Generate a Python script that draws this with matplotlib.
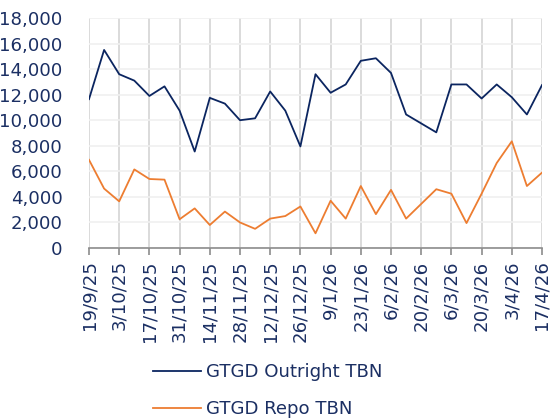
import matplotlib
matplotlib.use("Agg")
import matplotlib.pyplot as plt
from matplotlib.ticker import FuncFormatter, MultipleLocator

# ---- data ----
tick_labels = ["19/9/25", "3/10/25", "17/10/25", "31/10/25", "14/11/25", "28/11/25",
               "12/12/25", "26/12/25", "9/1/26", "23/1/26", "6/2/26", "20/2/26",
               "6/3/26", "20/3/26", "3/4/26", "17/4/26"]
outright = [11650, 15500, 13600, 13100, 11900, 12650, 10750, 7550, 11750, 11300,
            10000, 10150, 12250, 10750, 7950, 13600, 12150, 12800, 14650, 14850,
            13700, 10450, 9750, 9050, 12800, 12800, 11700, 12800, 11800, 10450, 12750]
repo = [6900, 4650, 3650, 6150, 5400, 5350, 2250, 3100, 1800, 2850,
        2000, 1500, 2300, 2500, 3250, 1150, 3700, 2300, 4850, 2650,
        4550, 2300, 3450, 4600, 4250, 1950, 4250, 6650, 8350, 4850, 5900]
series_names = ["GTGD Outright TBN", "GTGD Repo TBN"]

navy = "#0B2560"
orange = "#ED7D31"
text_c = "#1B2F63"
fs = 13.1

fig = plt.figure(figsize=(5.53, 4.19), dpi=100)
ax = fig.add_axes([89/553, 1-248/419, (542-89)/553, (248-18)/419])

x = list(range(len(outright)))
l1, = ax.plot(x, outright, color=navy, lw=1.3, label=series_names[0], zorder=3)
l2, = ax.plot(x, repo, color=orange, lw=1.3, label=series_names[1], zorder=3)

ax.set_xlim(0, len(outright) - 1)
ax.set_ylim(0, 18000)
ax.yaxis.set_major_locator(MultipleLocator(2000))
ax.yaxis.set_major_formatter(FuncFormatter(lambda v, p: f"{int(v):,}"))
ax.set_xticks(list(range(0, len(outright), 2)))
ax.set_xticklabels(tick_labels, rotation=90)

for s in ["top", "right", "left"]:
    ax.spines[s].set_visible(False)
ax.spines["bottom"].set_color("#8c8c8c")
ax.spines["bottom"].set_linewidth(1.2)

ax.tick_params(axis="x", direction="out", length=5, width=1.2, color="#8c8c8c",
               labelsize=fs, labelcolor=text_c, pad=4)
ax.tick_params(axis="y", length=0, labelsize=fs, labelcolor=text_c, pad=19)

ax.grid(axis="x", color="#d4d4d4", lw=1.2, zorder=0)
ax.grid(axis="y", color="#f0f0f0", lw=1.2, zorder=0)
ax.set_axisbelow(True)

leg = fig.legend(handles=[l1, l2], loc="upper left", bbox_to_anchor=(146/553, 1-356/419),
                 frameon=False, fontsize=fs, handlelength=2.6, handletextpad=0.3,
                 labelspacing=1.05, borderaxespad=0)
for t in leg.get_texts():
    t.set_color(text_c)

fig.savefig("out.png", dpi=100)
